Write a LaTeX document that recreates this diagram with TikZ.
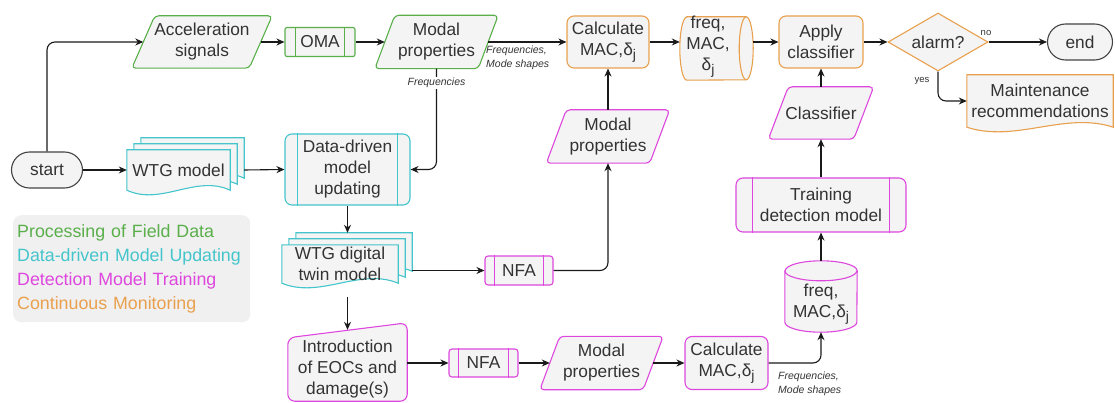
\documentclass[tikz,border=0pt]{standalone}
\usepackage{fontspec}
\setmainfont{Liberation Sans}
\usetikzlibrary{shapes.geometric,shapes.misc,arrows.meta,calc,backgrounds}

\definecolor{txt}{HTML}{333333}
\definecolor{boxfill}{HTML}{F4F4F4}
\definecolor{legfill}{HTML}{F0F0F0}
\definecolor{cgreen}{HTML}{5AAF4B}
\definecolor{ccyan}{HTML}{44C5CC}
\definecolor{cmag}{HTML}{DE47DE}
\definecolor{corange}{HTML}{E9A04E}
\definecolor{cgray}{HTML}{444444}
\definecolor{arrowc}{HTML}{1A1A1A}

% delta with subscript j
\newcommand{\delj}{δ\raisebox{-0.45ex}{\fontsize{14}{14}\selectfont j}}

\tikzset{
  nodetext/.style={font=\fontsize{17.3}{21}\selectfont, text=txt, align=center, inner sep=0pt},
  txtonly/.style={nodetext},
  rbox/.style={nodetext, draw=#1, fill=boxfill, line width=1.1pt, rounded corners=7pt},
  shapeline/.style={line width=1.1pt, draw=#1, fill=boxfill},
  arr/.style={draw=arrowc, line width=1.1pt, -{Stealth[length=8pt,width=7pt]}},
  elbow/.style={arr, rounded corners=8pt},
  lblfont/.style={font=\fontsize{10.5}{14}\selectfont\itshape, text=txt, align=left, inner sep=0pt},
  smalllbl/.style={font=\fontsize{9.5}{11}\selectfont, text=txt, inner sep=0pt},
}

% parallelogram around a node: node box is the outline at mid height
\newcommand{\parallelo}[3]{%
  \path[shapeline=#2, rounded corners=4pt]
    ($(#1.south west)+(-#3,0)$) -- ($(#1.north west)+(#3,0)$) --
    ($(#1.north east)+(#3,0)$) -- ($(#1.south east)+(-#3,0)$) -- cycle;}

% document sheet with a wavy lower edge, shifted by (#3,#4)
\newcommand{\docsheet}[4]{%
  \path[shapeline=#2]
    ($(#1.north west)+(#3,#4)$) -- ($(#1.north east)+(#3,#4)$) --
    ($(#1.south east)+(#3,#4)$)
    .. controls ($(#1.south east)!0.333!(#1.south west)+(#3,#4-16)$)
       and ($(#1.south east)!0.667!(#1.south west)+(#3,#4+16)$) ..
    ($(#1.south west)+(#3,#4)$) -- cycle;}

% stack of three sheets
\newcommand{\multidoc}[2]{%
  \docsheet{#1}{#2}{14}{-12}\docsheet{#1}{#2}{7}{-6}\docsheet{#1}{#2}{0}{0}}

% manual input: slanted top edge rising to the right
\newcommand{\manualin}[3]{%
  \path[shapeline=#2, rounded corners=7pt]
    (#1.south west) -- (#1.north west) -- ($(#1.north east)+(0,-#3)$) --
    (#1.south east) -- cycle;}

% vertical bars of a predefined process box
\newcommand{\sidebars}[3]{%
  \draw[draw=#2, line width=1.1pt]
    ($(#1.north west)+(#3,0)$) -- ($(#1.south west)+(#3,0)$)
    ($(#1.north east)+(-#3,0)$) -- ($(#1.south east)+(-#3,0)$);}

\begin{document}
\begin{tikzpicture}[x=1pt, y=-1pt]
\useasboundingbox (0,0) rectangle (1115,403);

% legend
\node[fill=legfill, rounded corners=8pt, inner xsep=4pt, inner ysep=0pt,
      text width=229pt, align=left, minimum height=107pt,
      font=\fontsize{17.8}{24}\selectfont, anchor=north west] (legend) at (13,215)
  {\textcolor{cgreen}{Processing of Field Data}\\
   \textcolor{ccyan}{Data-driven Model Updating}\\
   \textcolor{cmag}{Detection Model Training}\\
   \textcolor{corange}{Continuous Monitoring}};

% terminals
\node[rounded rectangle, nodetext, draw=cgray, fill=boxfill, line width=1.1pt,
      minimum width=71pt, minimum height=36pt] (start) at (47,170) {start};
\node[rounded rectangle, nodetext, draw=cgray, fill=boxfill, line width=1.1pt,
      minimum width=65pt, minimum height=36pt] (end) at (1080,42) {end};

% field data processing
\node[txtonly, minimum width=117pt, minimum height=52pt] (acc) at (202,42) {Acceleration\\signals};
\node[rbox=cgreen, rounded corners=2pt, minimum width=70pt, minimum height=29pt] (oma) at (320,42) {OMA};
\node[txtonly, minimum width=103pt, minimum height=53pt] (modal1) at (436.5,42) {Modal\\properties};

% model updating
\node[txtonly, minimum width=103pt, minimum height=40pt] (wtg) at (178.5,170) {WTG model};
\node[rbox=ccyan, minimum width=125pt, minimum height=71pt] (ddmu) at (347.5,169.5) {Data-driven\\model\\updating};
\node[txtonly, minimum width=116pt, minimum height=38pt] (twin) at (340,264) {WTG digital\\twin model};

% detection model training
\node[txtonly, minimum width=119pt, minimum height=63pt] (intro) at (347.5,369.5) {Introduction\\of EOCs and\\damage(s)};
\node[rbox=cmag, rounded corners=3pt, minimum width=69pt, minimum height=28pt] (nfa2) at (483.5,363) {NFA};
\node[txtonly, minimum width=103pt, minimum height=53pt] (modal3) at (601.5,363) {Modal\\properties};
\node[rbox=cmag, minimum width=83pt, minimum height=53pt] (calc2) at (726.5,363) {Calculate\\MAC,\delj};
\node[txtonly, minimum width=72pt, minimum height=71pt] (cyl2) at (821,296.5) {};
\node[txtonly] (cyl2txt) at (821,304) {freq,\\MAC,\delj};
\node[rbox=cmag, minimum width=170pt, minimum height=54pt] (train) at (821,205) {Training\\detection model};
\node[txtonly, minimum width=85pt, minimum height=52pt] (classifier) at (821,113) {Classifier};
\node[rbox=cmag, rounded corners=3pt, minimum width=68pt, minimum height=29pt] (nfa1) at (519,270.5) {NFA};
\node[txtonly, minimum width=103pt, minimum height=53pt] (modal2) at (608,136.5) {Modal\\properties};

% continuous monitoring
\node[rbox=corange, minimum width=82pt, minimum height=52pt] (calc1) at (608,42) {Calculate\\MAC,\delj};
\node[txtonly, minimum width=73pt, minimum height=63pt] (cyl1) at (716.5,48.5) {};
\node[txtonly] (cyl1txt) at (708,47) {freq,\\MAC,\\\delj};
\node[rbox=corange, minimum width=84pt, minimum height=52pt] (apply) at (821,42) {Apply\\classifier};
\node[diamond, aspect=1.7, nodetext, draw=corange, fill=boxfill, line width=1.1pt,
      minimum width=100pt, minimum height=58pt] (alarm) at (938,42) {alarm?};
\node[txtonly, minimum width=146pt, minimum height=52pt] (maint) at (1040,101) {Maintenance\\recommendations};

% bars of the predefined process boxes
\sidebars{oma}{cgreen}{11}
\sidebars{ddmu}{ccyan}{13}
\sidebars{nfa1}{cmag}{10}
\sidebars{nfa2}{cmag}{10}
\sidebars{train}{cmag}{17}

% outlines drawn behind the texts
\begin{pgfonlayer}{background}
  \parallelo{acc}{cgreen}{11.5}
  \parallelo{modal1}{cgreen}{10}
  \multidoc{wtg}{ccyan}
  \multidoc{twin}{ccyan}
  \manualin{intro}{cmag}{15}
  \parallelo{modal3}{cmag}{10}
  \parallelo{modal2}{cmag}{10}
  \parallelo{classifier}{cmag}{10}
  \docsheet{maint}{corange}{0}{0}
  % upright cylinder
  \path[shapeline=cmag]
    ($(cyl2.north west)+(0,10)$) -- ($(cyl2.south west)+(0,-10)$)
    arc[start angle=180, end angle=360, x radius=36pt, y radius=10pt]
    -- ($(cyl2.north east)+(0,10)$)
    arc[start angle=0, end angle=180, x radius=36pt, y radius=10pt] -- cycle;
  \draw[draw=cmag, line width=1.1pt] ($(cyl2.north west)+(0,10)$)
    arc[start angle=180, end angle=360, x radius=36pt, y radius=10pt];
  % lying cylinder
  \path[shapeline=corange]
    ($(cyl1.north west)+(7,0)$) -- ($(cyl1.north east)+(-7,0)$)
    arc[start angle=90, end angle=-90, x radius=7pt, y radius=31.5pt]
    -- ($(cyl1.south west)+(7,0)$)
    arc[start angle=270, end angle=90, x radius=7pt, y radius=31.5pt] -- cycle;
  \draw[draw=corange, line width=1.1pt] ($(cyl1.north east)+(-7,0)$)
    arc[start angle=90, end angle=270, x radius=7pt, y radius=31.5pt];
\end{pgfonlayer}

% connectors
\draw[elbow] (start.north) |- (acc.west);
\draw[arr] (start.east) -- (wtg.west);
\draw[arr] (acc.east) -- (oma.west);
\draw[arr] (oma.east) -- (modal1.west);
\draw[arr] (modal1.east) -- (calc1.west);
\node[lblfont, anchor=north west] (lblmodal1) at (486,46) {Frequencies,\\Mode shapes};
\draw[elbow] (modal1.south) |- (ddmu.east);
\node[lblfont, fill=white, inner sep=1.5pt] (lblfreq) at (436.5,83) {Frequencies};
\draw[arr] ($(wtg.east)+(14,0)$) -- (ddmu.west);
\draw[arr] (ddmu.south) -- ($(ddmu.south |- twin.north)+(0,-12)$);
\draw[arr] ($(twin.south -| intro.north)+(0,14)$) -- ($(intro.north)+(0,-8)$);
\draw[arr] (intro.east |- nfa2.west) -- (nfa2.west);
\draw[arr] (nfa2.east) -- (modal3.west);
\draw[arr] (modal3.east) -- (calc2.west);
\draw[elbow] (calc2.east) -| (cyl2.south);
\node[lblfont, anchor=north west] (lblcalc2) at (778,372) {Frequencies,\\Mode shapes};
\draw[arr] (cyl2.north) -- (train.south);
\draw[arr] (train.north) -- (classifier.south);
\draw[arr] (classifier.north) -- (apply.south);
\draw[arr] ($(twin.east |- nfa1.west)+(14,0)$) -- (nfa1.west);
\draw[elbow] (nfa1.east) -| (modal2.south);
\draw[arr] (modal2.north) -- (calc1.south);
\draw[arr] (calc1.east) -- (calc1.east -| cyl1.west);
\draw[arr] (cyl1.east |- apply.west) -- (apply.west);
\draw[arr] (apply.east) -- (alarm.west);
\draw[arr] (alarm.east) -- (end.west);
\node[smalllbl] (lblno) at (986,33) {no};
\draw[elbow] (alarm.south) |- (maint.west);
\node[smalllbl] (lblyes) at (922,81) {yes};
\end{tikzpicture}
\end{document}
